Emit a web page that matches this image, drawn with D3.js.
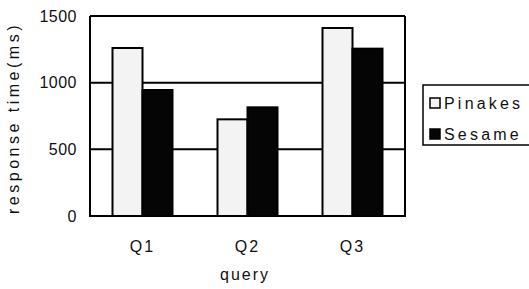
<!DOCTYPE html>
<html>
<head>
<meta charset="utf-8">
<script src="https://cdn.jsdelivr.net/npm/d3@7"></script>
<style>
  html, body { margin: 0; padding: 0; background: #fff; }
  text { font-family: "Liberation Sans", Arial, sans-serif; fill: #111; }
</style>
</head>
<body>
<script>
'use strict';

const categories = ['Q1', 'Q2', 'Q3'];
const seriesNames = ['Pinakes', 'Sesame'];
const pinakes = [1260, 725, 1410];
const sesame = [945, 815, 1255];
const yTicks = [0, 500, 1000, 1500];

const width = 529, height = 289;
const plot = { left: 90, right: 405, top: 16, bottom: 216 };

const svg = d3.select('body').append('svg')
    .attr('width', width)
    .attr('height', height);

const x = d3.scaleBand().domain(categories).range([plot.left, plot.right]).paddingInner(0).paddingOuter(0);
const inner = d3.scaleBand().domain(seriesNames).range([0, x.bandwidth()]).paddingInner(0).paddingOuter(0.75);
const y = d3.scaleLinear().domain([0, 1500]).range([plot.bottom, plot.top]);

const fills = { Pinakes: '#f3f3f3', Sesame: '#050505' };

// grid lines
svg.append('g').selectAll('line').data(yTicks.filter(t => t > 0)).enter().append('line')
    .attr('x1', plot.left).attr('x2', plot.right)
    .attr('y1', d => y(d)).attr('y2', d => y(d))
    .attr('stroke', '#000').attr('stroke-width', 2);

// bars
const rows = categories.map((c, i) => ({ cat: c, vals: [
  { name: 'Pinakes', v: pinakes[i] },
  { name: 'Sesame', v: sesame[i] }
]}));

const groups = svg.append('g').selectAll('g').data(rows).enter().append('g')
    .attr('transform', d => `translate(${x(d.cat)},0)`);
groups.selectAll('rect').data(d => d.vals).enter().append('rect')
    .attr('x', d => inner(d.name))
    .attr('width', inner.bandwidth())
    .attr('y', d => y(d.v))
    .attr('height', d => y(0) - y(d.v))
    .attr('fill', d => fills[d.name])
    .attr('stroke', '#000')
    .attr('stroke-width', 2);

// frame (left, right, bottom)
svg.append('path')
    .attr('d', `M ${plot.left} ${plot.top} L ${plot.left} ${plot.bottom} L ${plot.right} ${plot.bottom} L ${plot.right} ${plot.top}`)
    .attr('fill', 'none').attr('stroke', '#000').attr('stroke-width', 2);

// y tick labels
svg.append('g').selectAll('text').data(yTicks).enter().append('text')
    .attr('x', 77)
    .attr('y', d => y(d))
    .attr('dy', '0.35em')
    .attr('text-anchor', 'end')
    .style('font-size', '16px')
    .style('letter-spacing', '0.5px')
    .text(d => d);

// x tick labels
svg.append('g').selectAll('text').data(categories).enter().append('text')
    .attr('x', d => x(d) + x.bandwidth() / 2)
    .attr('y', 246)
    .attr('dy', '0.35em')
    .attr('text-anchor', 'middle')
    .style('font-size', '16px')
    .style('letter-spacing', '2px')
    .text(d => d);

// axis titles
svg.append('text')
    .attr('x', 245).attr('y', 274)
    .attr('dy', '0.35em')
    .attr('text-anchor', 'middle')
    .style('font-size', '16px')
    .style('letter-spacing', '2px')
    .text('query');

svg.append('text')
    .attr('transform', `translate(13, 118) rotate(-90)`)
    .attr('dy', '0.35em')
    .attr('text-anchor', 'middle')
    .style('font-size', '16px')
    .style('letter-spacing', '3.5px')
    .text('response time(ms)');

// legend
const lg = svg.append('g').attr('transform', 'translate(423,85)');
lg.append('rect').attr('x', 0).attr('y', 0).attr('width', 120).attr('height', 60)
    .attr('fill', '#fff').attr('stroke', '#000').attr('stroke-width', 1.5);
const li = lg.selectAll('g.item').data(seriesNames).enter().append('g')
    .attr('transform', (d, i) => `translate(7, ${18 + i * 31})`);
li.append('rect').attr('x', 0).attr('y', -5).attr('width', 10).attr('height', 10)
    .attr('fill', d => fills[d]).attr('stroke', '#000').attr('stroke-width', 1.5);
li.append('text').attr('x', 14).attr('dy', '0.35em')
    .style('font-size', '16px')
    .style('letter-spacing', '3.2px')
    .text(d => d);
</script>
</body>
</html>
